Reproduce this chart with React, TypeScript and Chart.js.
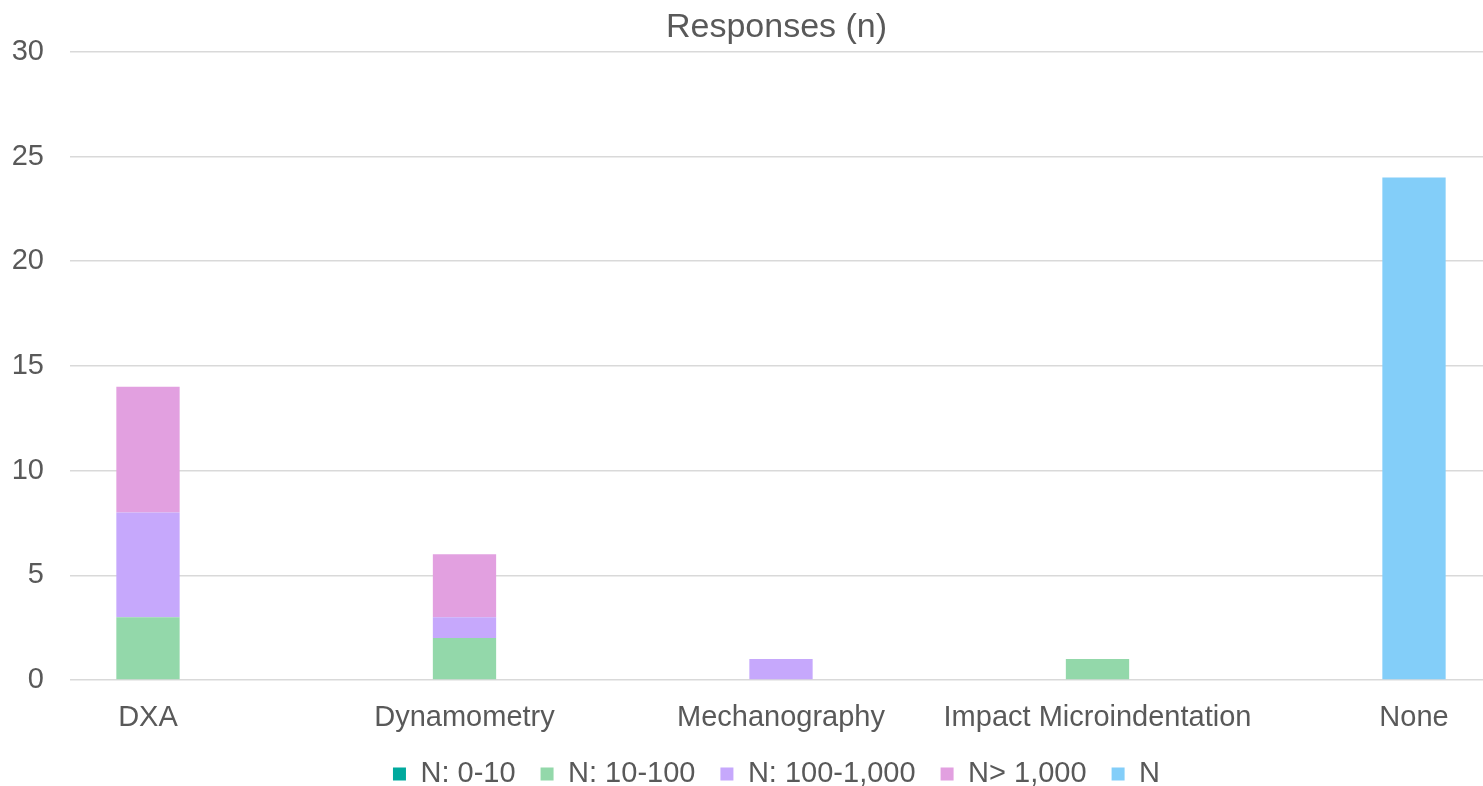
import React, { useEffect, useRef } from "react";
import { Chart, registerables } from "chart.js";

Chart.register(...registerables);

const categories = ["DXA", "Dynamometry", "Mechanography", "Impact Microindentation", "None"];
const seriesNames = ["N: 0-10", "N: 10-100", "N: 100-1,000", "N> 1,000", "N"];
const n0to10 = [0, 0, 0, 0, 0];
const n10to100 = [3, 2, 0, 1, 0];
const n100to1000 = [5, 1, 1, 0, 0];
const nOver1000 = [6, 3, 0, 0, 0];
const nNone = [0, 0, 0, 0, 24];
const yTicks = [0, 5, 10, 15, 20, 25, 30];
const colors = ["#00A99D", "#93D8AA", "#C6A8FC", "#E2A0E0", "#83CEF9"];

const FONT = "'Liberation Sans', Arial, sans-serif";
const TEXT = "#595959";

export default function App() {
  const ref = useRef<HTMLCanvasElement | null>(null);
  useEffect(() => {
    const ctx = ref.current!;
    const series = [n0to10, n10to100, n100to1000, nOver1000, nNone];
    const chart = new Chart(ctx, {
      type: "bar",
      data: {
        labels: categories.map((_, i) => i),
        datasets: series.map((d, i) => ({
          label: seriesNames[i],
          data: d,
          backgroundColor: colors[i],
          borderWidth: 0,
          categoryPercentage: 1,
          barPercentage: 0.2,
        })),
      },
      options: {
        responsive: false,
        animation: false,
        layout: { padding: { top: 0, left: 0, right: 0, bottom: -12.5 } },
        plugins: {
          title: {
            display: true,
            text: "Responses (n)",
            color: TEXT,
            font: { family: FONT, size: 34, weight: "normal" },
            padding: { top: 7, bottom: 4 },
            fullSize: false,
          },
          legend: {
            position: "bottom",
            fullSize: false,
            labels: {
              color: TEXT,
              font: { family: FONT, size: 29 },
              boxWidth: 13,
              boxHeight: 13,
              padding: 25,
            },
          },
          tooltip: { enabled: false },
        },
        scales: {
          x: {
            type: "linear",
            stacked: true,
            offset: false,
            min: -0.2464,
            max: 4.218,
            afterBuildTicks: (axis: any) => {
              axis.ticks = categories.map((_, i) => ({ value: i }));
            },
            afterFit: (axis: any) => {
              axis.height = 54.5;
            },
            ticks: {
              color: TEXT,
              font: { family: FONT, size: 29 },
              padding: 21,
              maxRotation: 0,
              autoSkip: false,
              callback: (v: any) => categories[v as number] ?? "",
            },
            grid: { display: false, drawTicks: false },
            border: { display: false },
          },
          y: {
            stacked: true,
            min: 0,
            max: 30,
            afterBuildTicks: (axis: any) => {
              axis.ticks = yTicks.map((v) => ({ value: v }));
            },
            afterFit: (axis: any) => {
              axis.width = 70;
            },
            ticks: {
              color: TEXT,
              font: { family: FONT, size: 29 },
              padding: 26,
            },
            grid: { color: "#D9D9D9", lineWidth: 1.5, drawTicks: false },
            border: { display: false },
          },
        },
      },
    });
    return () => chart.destroy();
  }, []);
  return (
    <div style={{ position: "absolute", left: 0, top: 0, width: 1483, height: 786, background: "#fff" }}>
      <canvas ref={ref} width={1483} height={786} />
    </div>
  );
}
